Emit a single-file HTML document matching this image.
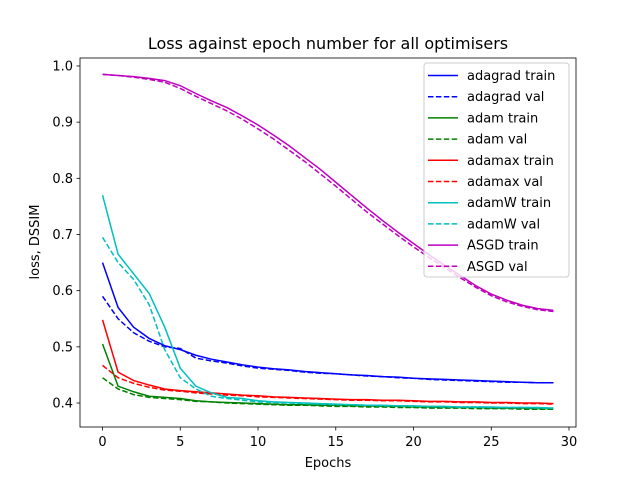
<!DOCTYPE html>
<html><head><meta charset="utf-8"><style>
body{margin:0;background:#fff}
svg{font-family:"DejaVu Sans","Liberation Sans",sans-serif}
</style></head><body>
<svg id="chart" width="640" height="480" viewBox="0 0 640 480" xmlns="http://www.w3.org/2000/svg">
<rect width="640" height="480" fill="#fff"/>
<text x="328" y="49" text-anchor="middle" font-size="16">Loss against epoch number for all optimisers</text>
<text x="328" y="467" text-anchor="middle" font-size="13">Epochs</text>
<text transform="translate(39,242) rotate(-90)" text-anchor="middle" font-size="13">loss, DSSIM</text>
<g id="marks"></g>
<g id="axes"></g>
<g id="legend"></g>
</svg>
<script>
const xTicks=[0,5,10,15,20,25,30];
const yTicks=[0.4,0.5,0.6,0.7,0.8,0.9,1.0];
const seriesNames=["adagrad train","adagrad val","adam train","adam val","adamax train","adamax val","adamW train","adamW val","ASGD train","ASGD val"];
const seriesColors=["#0000ff","#0000ff","#008000","#008000","#ff0000","#ff0000","#00bfbf","#00bfbf","#bf00bf","#bf00bf"];
const adagradTrain=[0.65,0.57,0.535,0.515,0.502,0.495,0.485,0.478,0.473,0.468,0.464,0.461,0.459,0.456,0.454,0.452,0.450,0.449,0.447,0.446,0.444,0.443,0.442,0.441,0.440,0.439,0.438,0.437,0.436,0.436];
const adagradVal=[0.59,0.55,0.525,0.51,0.50,0.497,0.48,0.475,0.471,0.466,0.462,0.460,0.458,0.455,0.453,0.452,0.450,0.448,0.447,0.445,0.444,0.442,0.441,0.440,0.439,0.438,0.437,0.437,0.436,0.436];
const adamTrain=[0.505,0.43,0.42,0.412,0.41,0.408,0.404,0.402,0.401,0.4,0.399,0.398,0.397,0.397,0.396,0.396,0.395,0.395,0.394,0.394,0.393,0.393,0.392,0.392,0.392,0.391,0.391,0.391,0.39,0.39];
const adamVal=[0.445,0.425,0.415,0.41,0.408,0.406,0.403,0.402,0.4,0.399,0.398,0.397,0.396,0.396,0.395,0.394,0.394,0.393,0.393,0.392,0.392,0.391,0.391,0.391,0.39,0.39,0.39,0.389,0.389,0.389];
const adamaxTrain=[0.548,0.455,0.44,0.432,0.425,0.422,0.42,0.418,0.416,0.414,0.413,0.411,0.410,0.409,0.408,0.407,0.406,0.406,0.405,0.405,0.404,0.403,0.403,0.402,0.402,0.401,0.401,0.400,0.400,0.399];
const adamaxVal=[0.467,0.445,0.435,0.428,0.423,0.421,0.418,0.416,0.414,0.413,0.411,0.410,0.409,0.408,0.407,0.406,0.405,0.405,0.404,0.404,0.403,0.402,0.402,0.401,0.401,0.400,0.400,0.399,0.399,0.398];
const adamWTrain=[0.77,0.665,0.63,0.595,0.535,0.462,0.43,0.418,0.41,0.408,0.404,0.402,0.401,0.4,0.399,0.398,0.397,0.396,0.396,0.395,0.395,0.394,0.394,0.393,0.393,0.393,0.392,0.392,0.392,0.391];
const adamWVal=[0.695,0.65,0.62,0.575,0.495,0.445,0.425,0.412,0.408,0.405,0.402,0.401,0.4,0.399,0.398,0.397,0.397,0.396,0.395,0.395,0.394,0.394,0.393,0.393,0.393,0.392,0.392,0.392,0.391,0.391];
const asgdTrain=[0.985,0.983,0.981,0.978,0.974,0.965,0.951,0.938,0.926,0.911,0.895,0.877,0.858,0.837,0.816,0.793,0.770,0.747,0.725,0.704,0.684,0.664,0.645,0.627,0.609,0.594,0.583,0.574,0.568,0.565];
const asgdVal=[0.985,0.983,0.98,0.976,0.971,0.96,0.946,0.933,0.92,0.905,0.888,0.87,0.85,0.83,0.808,0.786,0.763,0.74,0.719,0.698,0.678,0.659,0.641,0.623,0.606,0.591,0.58,0.572,0.566,0.563];
const allSeries=[adagradTrain,adagradVal,adamTrain,adamVal,adamaxTrain,adamaxVal,adamWTrain,adamWVal,asgdTrain,asgdVal];

const NS="http://www.w3.org/2000/svg";
const L=80,R=576,T=58,B=427;
const xMin=-1.45,xMax=30.45,yMin=0.3573,yMax=1.0142;
const xs=v=>L+(v-xMin)/(xMax-xMin)*(R-L);
const ys=v=>B-(v-yMin)/(yMax-yMin)*(B-T);
function mk(tag,attrs,parent){const e=document.createElementNS(NS,tag);for(const k in attrs)e.setAttribute(k,attrs[k]);parent.appendChild(e);return e;}

const marks=document.getElementById('marks');
allSeries.forEach((s,i)=>{
  const p=mk('polyline',{points:s.map((v,j)=>xs(j)+','+ys(v)).join(' '),fill:'none',stroke:seriesColors[i],'stroke-width':1.5,'stroke-dasharray':i%2?'5.5,2.4':'none'},marks);
  
  
});

const axes=document.getElementById('axes');
const frame=mk('rect',{x:L,y:T,width:R-L,height:B-T,fill:'none',stroke:'#000','stroke-width':0.8},axes);


xTicks.forEach(t=>{
  const x=xs(t);
  mk('line',{x1:x,x2:x,y1:B,y2:B+3.5,stroke:'#000','stroke-width':0.8},axes);
  const tx=mk('text',{x:x,y:B+19,'text-anchor':'middle','font-size':13},axes);
  tx.textContent=t;
  
  
});
yTicks.forEach(t=>{
  const y=ys(t);
  mk('line',{x1:L-3.5,x2:L,y1:y,y2:y,stroke:'#000','stroke-width':0.8},axes);
  const tx=mk('text',{x:L-7,y:y+4.5,'text-anchor':'end','font-size':13},axes);
  tx.textContent=t.toFixed(1);
  
  
});

const lg=document.getElementById('legend');
const box=mk('rect',{x:424,y:63,width:145,height:214,rx:3,fill:'#fff','fill-opacity':0.8,stroke:'#ccc','stroke-width':1},lg);


seriesNames.forEach((n,i)=>{
  const y=75.5+i*21.2;
  const ln=mk('line',{x1:428,x2:458,y1:y,y2:y,stroke:seriesColors[i],'stroke-width':1.5,'stroke-dasharray':i%2?'5.5,2.4':'none'},lg);
  
  
  const tx=mk('text',{x:467,y:y+4.5,'font-size':13},lg);
  tx.textContent=n;
  
  
});
</script>
</body></html>
